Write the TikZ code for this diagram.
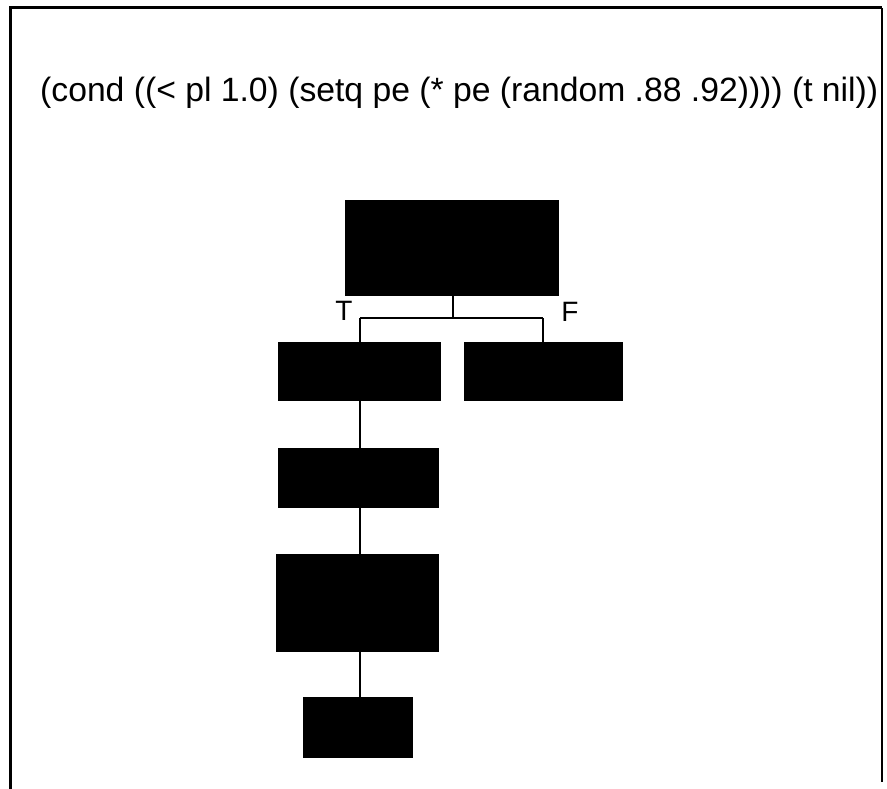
\documentclass[tikz,border=0pt]{standalone}
\usepackage{fontspec}
\setmainfont{Liberation Sans}
\begin{document}
\begin{tikzpicture}[x=1pt,y=-1pt,
  blk/.style={fill=black,draw=black,inner sep=0pt,outer sep=0pt},
  conn/.style={line width=2.6pt,black},
  lbl/.style={font=\fontsize{28}{30}\selectfont,inner sep=0pt}]
\useasboundingbox (0,0) rectangle (887,789);
% frame
\draw[line width=3pt] (10,789) -- (10,8) -- (882,8);
\draw[line width=1.2pt] (882,8) -- (882,782);
% code line
\node[inner sep=0pt,anchor=west] (code) at (40,93) {\resizebox{838pt}{!}{(cond ((< pl 1.0) (setq pe (* pe (random .88 .92)))) (t nil))}};
% boxes
\node[blk,minimum width=213pt,minimum height=95pt] (top) at (451.5,247.5) {};
\node[blk,minimum width=162pt,minimum height=58pt] (tb) at (359,371) {};
\node[blk,minimum width=158pt,minimum height=58pt] (fb) at (543,371) {};
\node[blk,minimum width=160pt,minimum height=59pt] (b2) at (358,477.5) {};
\node[blk,minimum width=162pt,minimum height=97pt] (b3) at (357,602.5) {};
\node[blk,minimum width=109pt,minimum height=60pt] (b4) at (357.5,727) {};
% branch
\coordinate (jn) at (453,318);
\draw[conn] (top.south -| jn) -- (jn);
\draw[conn] (360,318) -- (543,318);
\draw[conn] (360,318) -- (tb.north -| 360,0);
\draw[conn] (543,318) -- (fb.north -| 543,0);
\draw[conn] (tb.south -| 360,0) -- (b2.north -| 360,0);
\draw[conn] (b2.south -| 360,0) -- (b3.north -| 360,0);
\draw[conn] (b3.south -| 360,0) -- (b4.north -| 360,0);
\node[lbl] (tl) at (344,311) {T};
\node[lbl] (fl) at (570,312) {F};
\end{tikzpicture}
\end{document}
